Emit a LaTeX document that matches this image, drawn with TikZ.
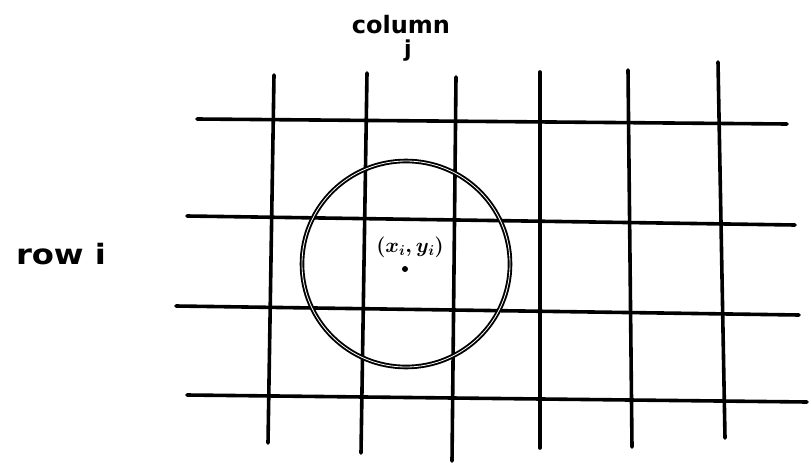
\documentclass[tikz,border=0pt]{standalone}
\usepackage{fontspec}
\setmainfont{DejaVu Sans}
\begin{document}
\begin{tikzpicture}[x=1pt,y=-1pt,
  gridline/.style={line width=3.6pt, line cap=round},
  ring/.style={line width=1.9pt, double=white, double distance=0.8pt},
  hand/.style={inner sep=0pt, font=\fontsize{24}{28}\selectfont\bfseries}]
\useasboundingbox (0,0) rectangle (811,463);
% horizontal lines
\coordinate (h1a) at (197,119); \coordinate (h1b) at (787,124);
\coordinate (h2a) at (187,216); \coordinate (h2b) at (795,225);
\coordinate (h3a) at (176,306); \coordinate (h3b) at (799,315);
\coordinate (h4a) at (187,395); \coordinate (h4b) at (807,402);
\draw[gridline] (h1a) -- (h1b);
\draw[gridline] (h2a) -- (h2b);
\draw[gridline] (h3a) -- (h3b);
\draw[gridline] (h4a) -- (h4b);
% vertical lines
\coordinate (v1a) at (274,75); \coordinate (v1b) at (268,443);
\coordinate (v2a) at (367,73); \coordinate (v2b) at (361,453);
\coordinate (v3a) at (456,77); \coordinate (v3b) at (452,461);
\coordinate (v4a) at (540,72); \coordinate (v4b) at (540,448);
\coordinate (v5a) at (628,70); \coordinate (v5b) at (632,447);
\coordinate (v6a) at (718,62); \coordinate (v6b) at (725,438);
\draw[gridline] (v1a) -- (v1b);
\draw[gridline] (v2a) -- (v2b);
\draw[gridline] (v3a) -- (v3b);
\draw[gridline] (v4a) -- (v4b);
\draw[gridline] (v5a) -- (v5b);
\draw[gridline] (v6a) -- (v6b);
% circle
\coordinate (c) at (406,264);
\draw[ring] (c) ellipse [x radius=104, y radius=103];
% centre point and labels
\fill (405,269) circle (3);
\node[inner sep=0pt, font=\fontsize{20}{24}\selectfont\boldmath] (pt) at (410,247) {$(x_i,y_i)$};
\node[hand] (col) at (401,25) {column};
\node[hand, font=\fontsize{22}{26}\selectfont\bfseries] (j) at (408,51) {j};
\node[hand, font=\fontsize{28}{32}\selectfont\bfseries] (row) at (61,254) {\scalebox{1.15}[1]{row i}};
\end{tikzpicture}
\end{document}
